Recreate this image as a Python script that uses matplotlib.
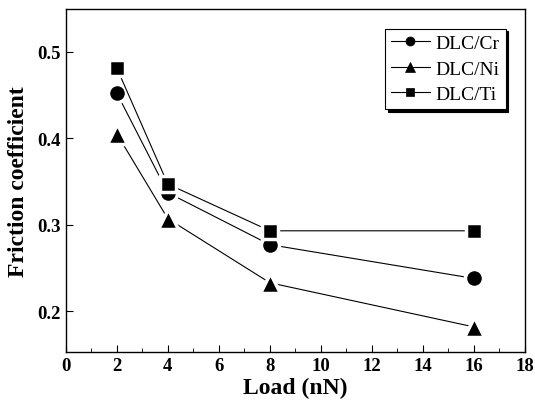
import matplotlib
matplotlib.use("Agg")
import matplotlib.pyplot as plt
from matplotlib.ticker import MultipleLocator

load = [2, 4, 8, 16]
cr = [0.452, 0.337, 0.277, 0.238]
ni = [0.405, 0.307, 0.233, 0.182]
ti = [0.481, 0.347, 0.293, 0.293]

plt.rcParams['font.family'] = ['Liberation Serif', 'DejaVu Serif']

fig = plt.figure(figsize=(5.35, 4.06), dpi=100)
ax = fig.add_axes([0.123, 0.1305, 0.858, 0.8445])

common = dict(color='black', lw=0.8, markeredgecolor='white', markeredgewidth=2.5)
ax.plot(load, cr, marker='o', ms=13, label='DLC/Cr', **common)
ax.plot(load, ni, marker='^', ms=14, label='DLC/Ni', **common)
ax.plot(load, ti, marker='s', ms=12, label='DLC/Ti', **common)

ax.set_xlim(0, 18)
ax.set_ylim(0.153, 0.549)
ax.xaxis.set_major_locator(MultipleLocator(2))
ax.xaxis.set_minor_locator(MultipleLocator(1))
ax.yaxis.set_major_locator(MultipleLocator(0.1))
ax.tick_params(which='both', direction='in', labelsize=13.5)
ax.tick_params(which='major', length=5)
ax.tick_params(which='minor', length=3)
for lbl in ax.get_xticklabels() + ax.get_yticklabels():
    lbl.set_fontweight('bold')
for s in ax.spines.values():
    s.set_linewidth(1.0)

ax.set_xlabel('Load (nN)', fontsize=17, fontweight='bold', labelpad=2)
ax.set_ylabel('Friction coefficient', fontsize=17, fontweight='bold', labelpad=6)

leg = ax.legend(loc='upper right', bbox_to_anchor=(0.958, 0.943), borderaxespad=0,
                fontsize=14, frameon=True, fancybox=False,
                shadow={'color': 'black', 'alpha': 1.0}, markerscale=0.5,
                handlelength=2.0, handletextpad=0.3, borderpad=0.3, labelspacing=0.4)
leg.get_frame().set_edgecolor('black')
leg.get_frame().set_linewidth(0.8)
for h in leg.legend_handles:
    h.set_markeredgecolor('black')
    h.set_markeredgewidth(0.5)

fig.savefig('out.png', dpi=100)
